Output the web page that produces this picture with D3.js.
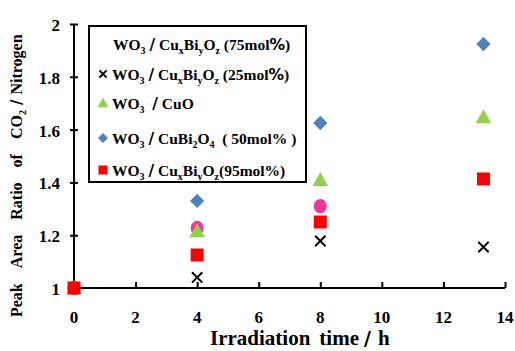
<!DOCTYPE html>
<html>
<head>
<meta charset="utf-8">
<script src="https://cdn.jsdelivr.net/npm/d3@7"></script>
<style>
  body { margin: 0; background: #fff; }
</style>
</head>
<body>
<script>

var width = 515,
  height = 351;

// irradiation time (h)
var times = [0, 4, 8, 13.3];

// peak area ratio per catalyst
var mol75 = [1, 1.227, 1.31];
var mol25 = [1, 1.04, 1.178, 1.155];
var cuo = [1, 1.216, 1.41, 1.648];
var cuBi2O4 = [1, 1.33, 1.625, 1.924];
var mol95 = [1, 1.125, 1.25, 1.413];

var xTicks = [0, 2, 4, 6, 8, 10, 12, 14];
var yTicks = [1, 1.2, 1.4, 1.6, 1.8, 2];

var series = [
  {name: "mol75", values: mol75, shape: "circle", color: "#F0359E", inLegend: false},
  {name: "mol25", values: mol25, shape: "x", color: "#000000", inLegend: true},
  {name: "cuo", values: cuo, shape: "triangle", color: "#92D050", inLegend: true},
  {name: "cuBi2O4", values: cuBi2O4, shape: "diamond", color: "#4F81BD", inLegend: true},
  {name: "mol95", values: mol95, shape: "square", color: "#FF0000", inLegend: true}
];

var serif = "'Liberation Serif', 'Times New Roman', serif";
var heavy = "'DejaVu Sans', sans-serif";

var svg = d3.select("body").append("svg")
  .attr("width", width)
  .attr("height", height)
  .attr("font-family", serif)
  .attr("font-weight", "bold");

var x = d3.scaleLinear().domain([0, 14]).range([74, 505]);
var y = d3.scaleLinear().domain([1, 2]).range([288, 24]);

// x ticks point up into the plot, y ticks cross the axis
var xAxis = svg.append("g")
  .attr("transform", "translate(0," + y(1) + ")")
  .call(d3.axisTop(x).tickValues(xTicks).tickSize(6).tickFormat(""));
xAxis.select(".domain").attr("d", "M" + x(0) + ",0H" + x(14));

var yAxis = svg.append("g")
  .attr("transform", "translate(" + x(0) + ",0)")
  .call(d3.axisRight(y).tickValues(yTicks).tickSize(4).tickFormat(""));
yAxis.select(".domain").attr("d", "M0," + y(1) + "V" + y(2));
yAxis.selectAll(".tick line").attr("x1", -4);

svg.selectAll(".domain, .tick line").attr("stroke", "#000").attr("stroke-width", 2);

svg.selectAll(".xlab").data(xTicks).enter().append("text")
  .attr("x", function(d){return x(d)})
  .attr("y", 323)
  .attr("text-anchor", "middle")
  .attr("font-size", 17)
  .text(function(d){return d});

svg.selectAll(".ylab").data(yTicks).enter().append("text")
  .attr("x", 60)
  .attr("y", function(d){return y(d) + 7})
  .attr("text-anchor", "end")
  .attr("font-size", 17)
  .text(function(d){return d});

// titles
var xt = svg.append("text")
  .attr("x", 210).attr("y", 345)
  .attr("font-size", 21);
xt.append("tspan").text("Irradiation");
xt.append("tspan").attr("dx", 9).text("time");
xt.append("tspan").attr("dx", 5).attr("font-family", heavy).attr("font-weight", 900).attr("font-size", 19).text("/");
xt.append("tspan").attr("dx", 7).text("h");

var yt = svg.append("text")
  .attr("transform", "translate(22,317) rotate(-90)")
  .attr("font-size", 16);
yt.append("tspan").text("Peak");
yt.append("tspan").attr("dx", 15).text("Area");
yt.append("tspan").attr("dx", 15).text("Ratio");
yt.append("tspan").attr("dx", 15).text("of");
yt.append("tspan").attr("dx", 15).text("CO");
yt.append("tspan").attr("dy", 4).attr("font-size", 10).text("2");
yt.append("tspan").attr("dy", -4).attr("dx", 5).attr("font-family", heavy).attr("font-weight", 900).attr("font-size", 15).text("/");
yt.append("tspan").attr("dx", 5).text("Nitrogen");

function symbol(g, shape, color, s) {
  if (shape == "circle") {
    g.append("ellipse").attr("rx", s * 0.5).attr("ry", s * 0.56).attr("fill", color);
  } else if (shape == "square") {
    g.append("rect").attr("x", -s / 2).attr("y", -s / 2).attr("width", s).attr("height", s).attr("fill", color);
  } else if (shape == "diamond") {
    var h = s * 0.55;
    g.append("path").attr("d", "M0," + (-h) + "L" + h + ",0L0," + h + "L" + (-h) + ",0Z").attr("fill", color);
  } else if (shape == "triangle") {
    var t = s * 0.6;
    g.append("path").attr("d", "M0," + (-t) + "L" + t + "," + (t * 0.8) + "L" + (-t) + "," + (t * 0.8) + "Z").attr("fill", color);
  } else if (shape == "x") {
    var k = s * 0.4;
    g.append("path").attr("d", "M" + (-k) + "," + (-k) + "L" + k + "," + k + "M" + k + "," + (-k) + "L" + (-k) + "," + k)
      .attr("stroke", color).attr("stroke-width", 2).attr("fill", "none");
  }
}

// points
series.forEach(function(s){
  var pts = svg.append("g").selectAll("g").data(s.values).enter().append("g")
    .attr("transform", function(d, i){return "translate(" + x(times[i]) + "," + y(d) + ")"});
  pts.each(function(){ symbol(d3.select(this), s.shape, s.color, 13); });
});

// legend
var legend = svg.append("g");
legend.append("rect")
  .attr("x", 89).attr("y", 26).attr("width", 217).attr("height", 156)
  .attr("fill", "#fff").attr("stroke", "#000").attr("stroke-width", 2);

var legendRows = [
  {y: 44, parts: [["WO"], ["3", 1], [" "], ["/", 2], [" Cu"], ["x", 1], ["Bi"], ["y", 1], ["O"], ["z", 1], [" (75mol"], ["%", 2], [")"]]},
  {y: 74, parts: [["WO"], ["3", 1], [" "], ["/", 2], [" Cu"], ["x", 1], ["Bi"], ["y", 1], ["O"], ["z", 1], [" (25mol"], ["%", 2], [")"]]},
  {y: 103, parts: [["WO"], ["3", 1], ["  "], ["/", 2], [" CuO"]]},
  {y: 138, parts: [["WO"], ["3", 1], [" "], ["/", 2], [" CuBi"], ["2", 1], ["O"], ["4", 1], ["  ( 50mol% )"]]},
  {y: 170, parts: [["WO"], ["3", 1], [" "], ["/", 2], [" Cu"], ["x", 1], ["Bi"], ["y", 1], ["O"], ["z", 1], ["(95mol%)"]]}
];

legendRows.forEach(function(row, i){
  var s = series[i];
  if (s.inLegend) {
    var m = legend.append("g").attr("transform", "translate(103," + row.y + ")");
    symbol(m, s.shape, s.color, 9);
  }
  var t = legend.append("text")
    .attr("x", i == 0 ? 113 : 112).attr("y", row.y + 5.5)
    .attr("font-size", 15.5)
    .attr("xml:space", "preserve");
  var shifted = false;
  row.parts.forEach(function(p){
    var ts = t.append("tspan").text(p[0]);
    if (p[1] == 1) {
      ts.attr("dy", shifted ? 0 : 4).attr("font-size", 10);
      shifted = true;
    } else {
      if (shifted) ts.attr("dy", -4);
      shifted = false;
      if (p[1] == 2) ts.attr("font-family", heavy).attr("font-weight", 900);
    }
  });
});

</script>
</body>
</html>
